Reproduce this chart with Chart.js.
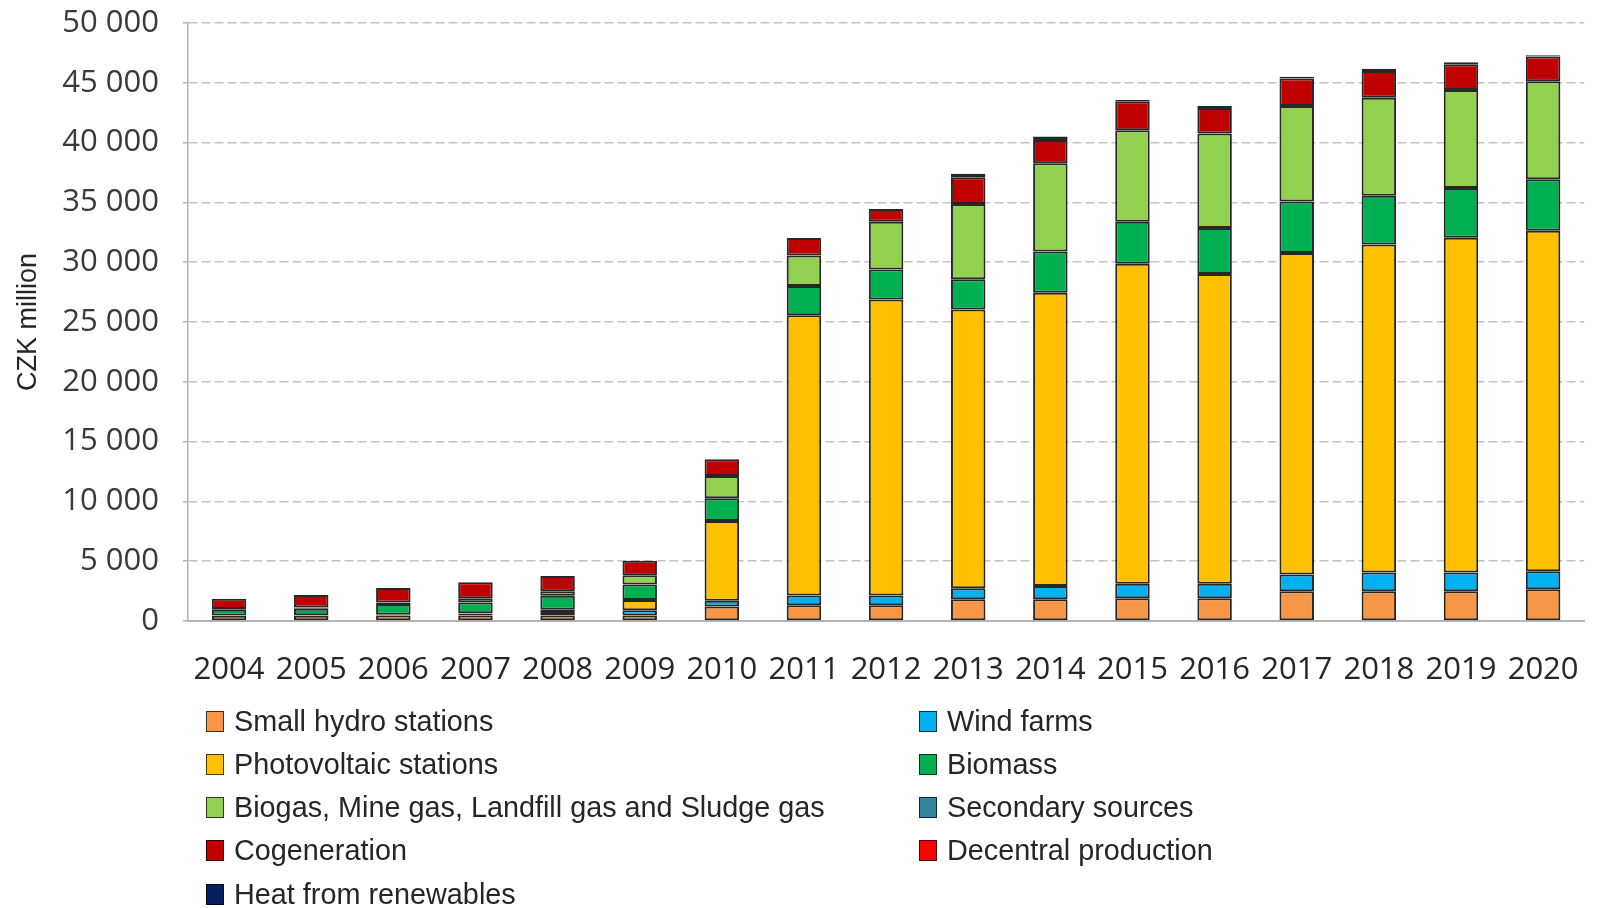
<!DOCTYPE html>
<html>
<head>
<meta charset="utf-8">
<script src="https://cdn.jsdelivr.net/npm/chart.js@4/dist/chart.umd.min.js"></script>
<style>
  *{margin:0;padding:0;box-sizing:border-box}
  html,body{width:1610px;height:908px;background:#fff;overflow:hidden}
  .wrap{position:relative;width:1610px;height:908px}
  canvas{position:absolute;left:0;top:0}
  .legend{position:absolute;left:0;top:0;font-family:'Liberation Sans',Arial,sans-serif;font-size:28.8px;color:#262626}
  .legend .item{position:absolute;height:32px;display:flex;align-items:center;white-space:nowrap}
  .legend .box{width:18px;height:21px;border:1.5px solid rgba(0,0,0,0.7);margin-right:10px}
</style>
</head>
<body>
<div class="wrap">
  <canvas id="chart" width="1610" height="908"></canvas>
  <div class="legend" id="legend"></div>
</div>
<script>
// ─── Data (CZK million) ────────────────────────────────────────
const years = ['2004','2005','2006','2007','2008','2009','2010','2011','2012',
               '2013','2014','2015','2016','2017','2018','2019','2020'];

const smallHydro   = [430, 430, 450, 450, 450, 450, 1220, 1310, 1310, 1810, 1810, 1910, 1910, 2490, 2490, 2490, 2650];
const windFarms    = [30, 50, 60, 150, 300, 450, 470, 830, 830, 920, 1110, 1210, 1210, 1400, 1560, 1560, 1500];
const photovoltaic = [0, 0, 10, 40, 200, 850, 6680, 23420, 24750, 23310, 24530, 26750, 25900, 26880, 27420, 28000, 28470];
const biomass      = [480, 550, 900, 900, 1170, 1300, 1890, 2440, 2500, 2530, 3440, 3510, 3830, 4310, 4090, 4150, 4310];
const biogas       = [60, 100, 120, 360, 360, 780, 1860, 2560, 4000, 6300, 7390, 7650, 7910, 7970, 8190, 8190, 8190];
const secondary    = [0, 0, 0, 0, 0, 0, 0, 0, 0, 0, 0, 0, 0, 0, 0, 0, 0];
const cogeneration = [850, 1040, 1220, 1340, 1290, 1200, 1400, 1470, 1060, 2230, 1940, 2430, 2130, 2300, 2240, 2170, 2080];
const decentral    = [0, 0, 0, 0, 0, 0, 0, 0, 0, 0, 0, 0, 0, 0, 0, 0, 0];
const heatRenew    = [0, 0, 0, 0, 0, 0, 0, 0, 0, 300, 300, 100, 160, 150, 190, 160, 100];

const seriesLabels = [
  'Small hydro stations', 'Wind farms', 'Photovoltaic stations', 'Biomass',
  'Biogas, Mine gas, Landfill gas and Sludge gas', 'Secondary sources',
  'Cogeneration', 'Decentral production', 'Heat from renewables'
];
const seriesValues = [smallHydro, windFarms, photovoltaic, biomass, biogas,
                      secondary, cogeneration, decentral, heatRenew];

// ─── Styling ───────────────────────────────────────────────────
const COLORS = ['#F79646', '#00B0F0', '#FFC000', '#00B050', '#92D050',
                '#31859C', '#C00000', '#FF0000', '#002060'];
const GRID = '#c4c4c4';
const AXIS = '#b4b4b4';

const fmt = (v) => String(v).replace(/\B(?=(\d{3})+(?!\d))/g, ' ');

const datasets = seriesLabels.map((label, i) => ({
  label,
  data: seriesValues[i],
  backgroundColor: COLORS[i],
  borderColor: 'rgba(15,15,15,0.9)',
  borderWidth: 2,
  borderSkipped: false,
  categoryPercentage: 1,
  barPercentage: 0.42,
}));

const ctx = document.getElementById('chart').getContext('2d');
new Chart(ctx, {
  type: 'bar',
  data: { labels: years, datasets },
  options: {
    responsive: false,
    animation: false,
    layout: { padding: { left: 0, right: 15, top: 23, bottom: 212 } },
    plugins: { legend: { display: false }, tooltip: { enabled: false } },
    scales: {
      x: {
        stacked: true,
        afterFit: (s) => { s.height = 75; },
        grid: { display: false, drawTicks: false },
        border: { display: true, color: AXIS, width: 2 },
        ticks: {
          color: '#262626',
          padding: 31,
          maxRotation: 0,
          autoSkip: false,
          font: { family: "'Open Sans', sans-serif", size: 31 },
        },
      },
      y: {
        stacked: true,
        min: 0,
        max: 50000,
        // fixed axis width; drop the label-overflow padding so the
        // plot top sits where the layout padding puts it
        afterFit: (s) => { s.width = 188; s.paddingTop = 0; s.paddingBottom = 0; },
        ticks: {
          stepSize: 5000,
          padding: 24,
          color: '#3a3a3a',
          callback: (v) => fmt(v),
          font: { family: "'Open Sans', sans-serif", size: 31 },
        },
        grid: {
          color: (c) => (c.tick && c.tick.value === 0 ? 'rgba(0,0,0,0)' : GRID),
          lineWidth: 1.5,
          tickLength: 5,
          tickColor: AXIS,
          tickBorderDash: [],
        },
        border: { display: true, color: AXIS, width: 1.5, dash: [9, 4] },
        title: {
          display: true,
          text: 'CZK million',
          color: '#262626',
          padding: { top: 12, bottom: 0 },
          font: { family: "'Liberation Sans', Arial, sans-serif", size: 27 },
        },
      },
    },
  },
});

// ─── Legend (two columns, row-wise like the source) ────────────
const legendCols = [206, 919];
const legendRow0 = 721, legendStep = 43.3;
const legendEl = document.getElementById('legend');
seriesLabels.forEach((label, i) => {
  const item = document.createElement('div');
  item.className = 'item';
  item.style.left = legendCols[i % 2] + 'px';
  item.style.top = (legendRow0 + Math.floor(i / 2) * legendStep - 16) + 'px';
  item.innerHTML = '<span class="box" style="background:' + COLORS[i] + '"></span>' + label;
  legendEl.appendChild(item);
});
</script>
</body>
</html>
